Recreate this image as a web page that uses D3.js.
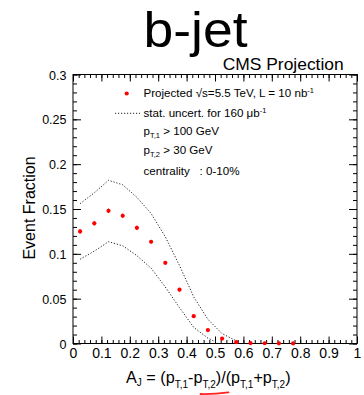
<!DOCTYPE html>
<html>
<head>
<meta charset="utf-8">
<script src="https://cdn.jsdelivr.net/npm/d3@7"></script>
<style>
  html, body { margin: 0; padding: 0; background: #fff; }
  svg { display: block; font-family: "Liberation Sans", Arial, Helvetica, sans-serif; }
</style>
</head>
<body>
<svg id="chart" width="364" height="395"></svg>
<script>
// ---- data ----
const binCenters = [0.025,0.075,0.125,0.175,0.225,0.275,0.325,0.375,0.425,0.475,0.525,0.575,0.625,0.675,0.725,0.775];
const projected  = [0.125,0.134,0.148,0.1425,0.129,0.1135,0.090,0.060,0.0305,0.015,0.0055,0.0015,0.0005,0.0003,0.0002,0.0001];
const projErr    = [0.0025,0.0025,0.0025,0.0025,0.0025,0.002,0.002,0.002,0.0015,0.0012,0.001,0.0005,0.0003,0.0002,0.0002,0.0001];
const upperX     = [0.025,0.075,0.125,0.175,0.225,0.275,0.325,0.375,0.425,0.475,0.525,0.575];
const upperBand  = [0.156,0.168,0.182,0.177,0.163,0.145,0.119,0.087,0.052,0.027,0.011,0.003];
const lowerX     = [0.025,0.075,0.125,0.175,0.225,0.275,0.325,0.375,0.425,0.475,0.510];
const lowerBand  = [0.094,0.103,0.1135,0.109,0.098,0.084,0.063,0.040,0.018,0.006,0.0005];
const xTickVals  = [0,0.1,0.2,0.3,0.4,0.5,0.6,0.7,0.8,0.9,1];
const xTickLabels= ["0","0.1","0.2","0.3","0.4","0.5","0.6","0.7","0.8","0.9","1"];
const yTickVals  = [0,0.05,0.1,0.15,0.2,0.25,0.3];
const yTickLabels= ["0","0.05","0.1","0.15","0.2","0.25","0.3"];

// ---- layout ----
const L = 73, R = 357, T = 74.5, B = 343.5;
const svg = d3.select("#chart");
const x = d3.scaleLinear().domain([0,1]).range([L,R]);
const y = d3.scaleLinear().domain([0,0.3]).range([B,T]);

const minorX = d3.range(0,1.0001,0.02);
const minorY = d3.range(0,0.3001,0.01);

// bottom axis (major with labels)
const gB = svg.append("g").attr("transform",`translate(0,${B})`)
  .call(d3.axisBottom(x).tickValues(xTickVals).tickSize(-7).tickFormat((d,i)=>xTickLabels[i]));
gB.selectAll("text").attr("y",14.5).attr("dy",0).attr("font-size",14).attr("fill","#000");
svg.append("g").attr("transform",`translate(0,${B})`)
  .call(d3.axisBottom(x).tickValues(minorX).tickSize(-3.5).tickFormat(""));
// top axis (mirror ticks)
svg.append("g").attr("transform",`translate(0,${T})`)
  .call(d3.axisTop(x).tickValues(xTickVals).tickSize(-7).tickFormat(""));
svg.append("g").attr("transform",`translate(0,${T})`)
  .call(d3.axisTop(x).tickValues(minorX).tickSize(-3.5).tickFormat(""));
// left axis
const gL = svg.append("g").attr("transform",`translate(${L},0)`)
  .call(d3.axisLeft(y).tickValues(yTickVals).tickSize(-8).tickFormat((d,i)=>yTickLabels[i]));
gL.selectAll("text").attr("x",-6.5).attr("dy","0.36em").attr("font-size",12.5).attr("fill","#000");
svg.append("g").attr("transform",`translate(${L},0)`)
  .call(d3.axisLeft(y).tickValues(minorY).tickSize(-4).tickFormat(""));
// right axis
svg.append("g").attr("transform",`translate(${R},0)`)
  .call(d3.axisRight(y).tickValues(yTickVals).tickSize(-8).tickFormat(""));
svg.append("g").attr("transform",`translate(${R},0)`)
  .call(d3.axisRight(y).tickValues(minorY).tickSize(-4).tickFormat(""));

svg.selectAll(".domain").remove();
svg.selectAll(".tick line").attr("stroke","#000").attr("stroke-width",1);
svg.selectAll("g").attr("font-family",null);

// frame
svg.append("rect").attr("x",L).attr("y",T).attr("width",R-L).attr("height",B-T)
  .attr("fill","none").attr("stroke","#000").attr("stroke-width",1);

// band lines
const line = d3.line().x(d=>x(d[0])).y(d=>y(d[1]));
svg.append("path").datum(upperX.map((v,i)=>[v,upperBand[i]]))
  .attr("d",line).attr("fill","none").attr("stroke","#222").attr("stroke-width",1)
  .attr("stroke-dasharray","1.2,1.8");
svg.append("path").datum(lowerX.map((v,i)=>[v,lowerBand[i]]))
  .attr("d",line).attr("fill","none").attr("stroke","#222").attr("stroke-width",1)
  .attr("stroke-dasharray","1.2,1.8");

// points with small error bars
const pts = binCenters.map((v,i)=>({x:v,y:projected[i],e:projErr[i]}));
svg.append("g").selectAll("line").data(pts).join("line")
  .attr("x1",d=>x(d.x)).attr("x2",d=>x(d.x))
  .attr("y1",d=>y(d.y+d.e)).attr("y2",d=>y(d.y-d.e))
  .attr("stroke","#f00").attr("stroke-width",1);
svg.append("g").selectAll("circle").data(pts).join("circle")
  .attr("cx",d=>x(d.x)).attr("cy",d=>y(d.y)).attr("r",2.1).attr("fill","#f00");

// titles
svg.append("text").attr("x",195.5).attr("y",47).attr("text-anchor","middle")
  .attr("font-size",50).attr("textLength",104).attr("lengthAdjust","spacingAndGlyphs").text("b-jet");
svg.append("text").attr("x",222.7).attr("y",69.5)
  .attr("font-size",16.5).attr("textLength",121).attr("lengthAdjust","spacingAndGlyphs").text("CMS Projection");

// legend
const lg = svg.append("g").attr("font-size",11.6);
lg.append("circle").attr("cx",126.7).attr("cy",93.5).attr("r",2.1).attr("fill","#f00");
const t1 = lg.append("text").attr("x",143.5).attr("y",97.3);
t1.append("tspan").text("Projected √s=5.5 TeV, L = 10 nb");
t1.append("tspan").attr("dy",-4).attr("font-size",7.5).text("-1");
lg.append("line").attr("x1",115).attr("x2",140).attr("y1",113.3).attr("y2",113.3)
  .attr("stroke","#222").attr("stroke-width",1).attr("stroke-dasharray","1.2,1.8");
const t2 = lg.append("text").attr("x",143.5).attr("y",116.5);
t2.append("tspan").text("stat. uncert. for 160 μb");
t2.append("tspan").attr("dy",-4).attr("font-size",7.5).text("-1");
const t3 = lg.append("text").attr("x",143.5).attr("y",134.5);
t3.append("tspan").text("p");
t3.append("tspan").attr("dy",3).attr("font-size",7.5).text("T,1");
t3.append("tspan").attr("dy",-3).text(" > 100 GeV");
const t4 = lg.append("text").attr("x",143.5).attr("y",153.5);
t4.append("tspan").text("p");
t4.append("tspan").attr("dy",3).attr("font-size",7.5).text("T,2");
t4.append("tspan").attr("dy",-3).text(" > 30 GeV");
lg.append("text").attr("x",143.5).attr("y",175).attr("xml:space","preserve").text("centrality   : 0-10%");

// axis titles
const xt = svg.append("text").attr("x",126).attr("y",383.3).attr("font-size",16.2);
xt.append("tspan").text("A");
xt.append("tspan").attr("dy",2.5).attr("font-size",10).text("J");
xt.append("tspan").attr("dy",-2.5).text(" = (p");
xt.append("tspan").attr("dy",4.5).attr("font-size",10).text("T,1");
xt.append("tspan").attr("dy",-4.5).text("-p");
xt.append("tspan").attr("dy",4.5).attr("font-size",10).text("T,2");
xt.append("tspan").attr("dy",-4.5).text(")/(p");
xt.append("tspan").attr("dy",4.5).attr("font-size",10).text("T,1");
xt.append("tspan").attr("dy",-4.5).text("+p");
xt.append("tspan").attr("dy",4.5).attr("font-size",10).text("T,2");
xt.append("tspan").attr("dy",-4.5).text(")");

svg.append("text").attr("transform","translate(35,208) rotate(-90)")
  .attr("text-anchor","middle").attr("font-size",16).text("Event Fraction");

// red hand-drawn underline annotation
svg.append("path").attr("d","M200.5,394 Q214,394.3 228.5,392.3")
  .attr("fill","none").attr("stroke","#f22").attr("stroke-width",1.8).attr("stroke-linecap","round");
</script>
</body>
</html>
